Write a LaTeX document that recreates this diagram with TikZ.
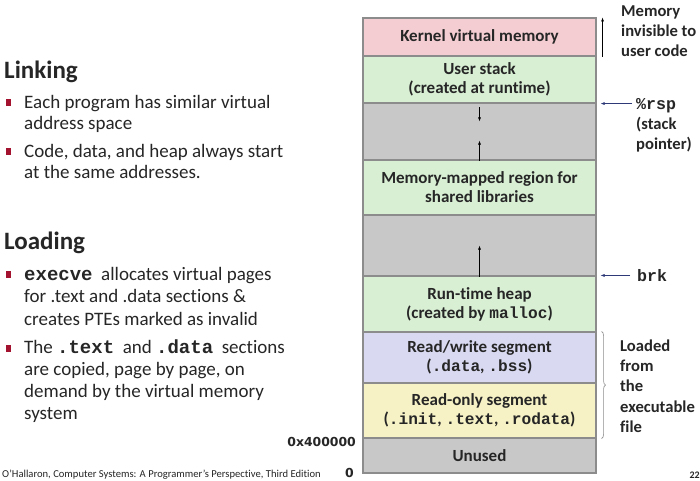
\documentclass[tikz,border=0pt]{standalone}
\usepackage{fontspec}
\setmainfont{Carlito}[Ligatures=NoCommon]
\newfontfamily\cmono{Liberation Mono}
\newfontfamily\cmonosm[Scale=0.95]{Liberation Mono}
\newfontfamily\dvsans{DejaVu Sans}
\usetikzlibrary{arrows.meta,calc,decorations.pathreplacing}
\definecolor{kernpink}{HTML}{F3CDD1}
\definecolor{segreen}{HTML}{D9EFD4}
\definecolor{holegray}{HTML}{C8C8C8}
\definecolor{rwblue}{HTML}{D9D9F2}
\definecolor{royellow}{HTML}{F6F2C6}
\definecolor{segline}{HTML}{8C8C8C}
\definecolor{inkgray}{HTML}{262626}
\definecolor{bulred}{HTML}{A3122F}
\definecolor{ptrblue}{HTML}{2E3A78}
\newcommand{\tx}[1]{{\cmono\bfseries #1}}
\newcommand{\txs}[1]{{\cmonosm\bfseries #1}}
\newcommand{\bul}{\llap{\textcolor{bulred}{\rule[2pt]{5.5pt}{7pt}}\hspace{13pt}}}

\begin{document}
\begin{tikzpicture}[x=1pt,y=-1pt,
  seg/.style={draw=segline, line width=1.1pt, minimum width=233, inner sep=0,
    align=center, text=inkgray, font=\bfseries\fontsize{17}{19}\selectfont},
  head/.style={anchor=west, inner sep=0, text=inkgray, font=\bfseries\fontsize{25}{28}\selectfont},
  bultext/.style={anchor=north west, inner sep=0, align=left, text=inkgray},
  side/.style={anchor=north west, inner sep=0, align=left, text=inkgray,
    font=\bfseries\fontsize{16.6}{20}\selectfont},
  addr/.style={anchor=east, inner sep=0, text=inkgray, font=\dvsans\bfseries\fontsize{12.4}{14}\selectfont},
  growarr/.style={-{Latex[length=4pt,width=3pt]}, line width=0.6pt, black},
  ptr/.style={-{Latex[length=4pt,width=3pt]}, line width=0.6pt, ptrblue},
  brc/.style={decorate, decoration={brace, amplitude=4pt}, line width=0.6pt, segline}]
		%%%%% START %%%%%
		\useasboundingbox[fill=white] (0,0) rectangle (700,480);
		
		% left text
		\node[head] (linking) at (4,72) {Linking};
		\node[bultext, font=\fontsize{19}{21.5}\selectfont] (bulA) at (24,95)
		  {\bul Each program has similar virtual\\address space};
		\node[bultext, font=\fontsize{19}{21.5}\selectfont] (bulB) at (24,144)
		  {\bul Code, data, and heap always start\\at the same addresses.};
		
		\node[head] (loading) at (4,243) {Loading};
		\node[bultext, font=\fontsize{19}{22.5}\selectfont] (bulC) at (24,267)
		  {\bul \tx{execve}\ \ allocates virtual pages\\for .text and .data sections \&\\creates PTEs marked as invalid};
		\node[bultext, font=\fontsize{19}{22}\selectfont] (bulD) at (24,340)
		  {\bul The \tx{.text}\ \ and \tx{.data}\ \ sections\\are copied, page by page, on\\demand by the virtual memory\\system};
		
		% address space
		\node[seg, fill=kernpink, minimum height=38] (kernel) at (479.5,37) {Kernel virtual memory};
		\node[seg, fill=segreen, minimum height=47] (stack) at (479.5,79.5) {User stack\\(created at runtime)};
		\node[seg, fill=holegray, minimum height=57] (gapA) at (479.5,131.5) {};
		\node[seg, fill=segreen, minimum height=55] (mmap) at (479.5,187.5) {Memory-mapped region for\\shared libraries};
		\node[seg, fill=holegray, minimum height=61] (gapB) at (479.5,245.5) {};
		\node[seg, fill=segreen, minimum height=56] (heap) at (479.5,304) {Run-time heap\\(created by \txs{malloc})};
		\node[seg, fill=rwblue, minimum height=51] (rwseg) at (479.5,357.5) {Read/write segment\\(\txs{.data}, \txs{.bss})};
		\node[seg, fill=royellow, minimum height=55] (roseg) at (479.5,410.5) {Read-only segment\\(\txs{.init}, \txs{.text}, \txs{.rodata})};
		\node[seg, fill=holegray, minimum height=35] (unused) at (479.5,455.5) {Unused};
		
		\draw[growarr] ($(gapA.north)+(0,5)$) -- ($(gapA.north)+(0,19)$);
		\draw[growarr] (gapA.south) -- ($(gapA.south)+(0,-20)$);
		\draw[growarr] (gapB.south) -- ($(gapB.south)+(0,-31)$);
		
		% right labels
		\node[side] (invis) at (621,6) {Memory\\invisible to\\user code};
		\draw[growarr] ($(kernel.south east)+(6,0)$) -- ($(kernel.north east)+(6,0)$);
		
		\node[side] (rsp) at (636,98) {\tx{\%rsp}\\(stack\\pointer)};
		\draw[ptr] ([xshift=-4pt]rsp.west |- stack.south) -- ($(stack.south east)+(4,0)$);
		
		\node[side, anchor=west] (brk) at (637,276) {\tx{brk}};
		\draw[ptr] ([xshift=-7pt]brk.west |- heap.north) -- ($(heap.north east)+(4,0)$);
		
		\draw[brc] ($(rwseg.north east)+(5,0)$) -- ($(roseg.south east)+(5,0)$);
		\node[side, font=\bfseries\fontsize{16.6}{20.3}\selectfont] (loaded) at (620,339.5) {Loaded\\from\\the\\executable\\file};
		
		% addresses
		\node[addr] (lowaddr) at (356,442) {0x400000};
		\node[addr] (zero) at (354,473) {0};
		
		% footer
		\node[anchor=west, inner sep=0, text=inkgray, font=\fontsize{10.6}{12}\selectfont] (credit) at (2,475)
		  {O’Hallaron, Computer Systems: A Programmer’s Perspective, Third Edition};
		\node[anchor=east, inner sep=0, text=inkgray, font=\bfseries\fontsize{10}{12}\selectfont] (pgnum) at (700,475) {22};
		
		%%%%% END %%%%%
\end{tikzpicture}
\end{document}
